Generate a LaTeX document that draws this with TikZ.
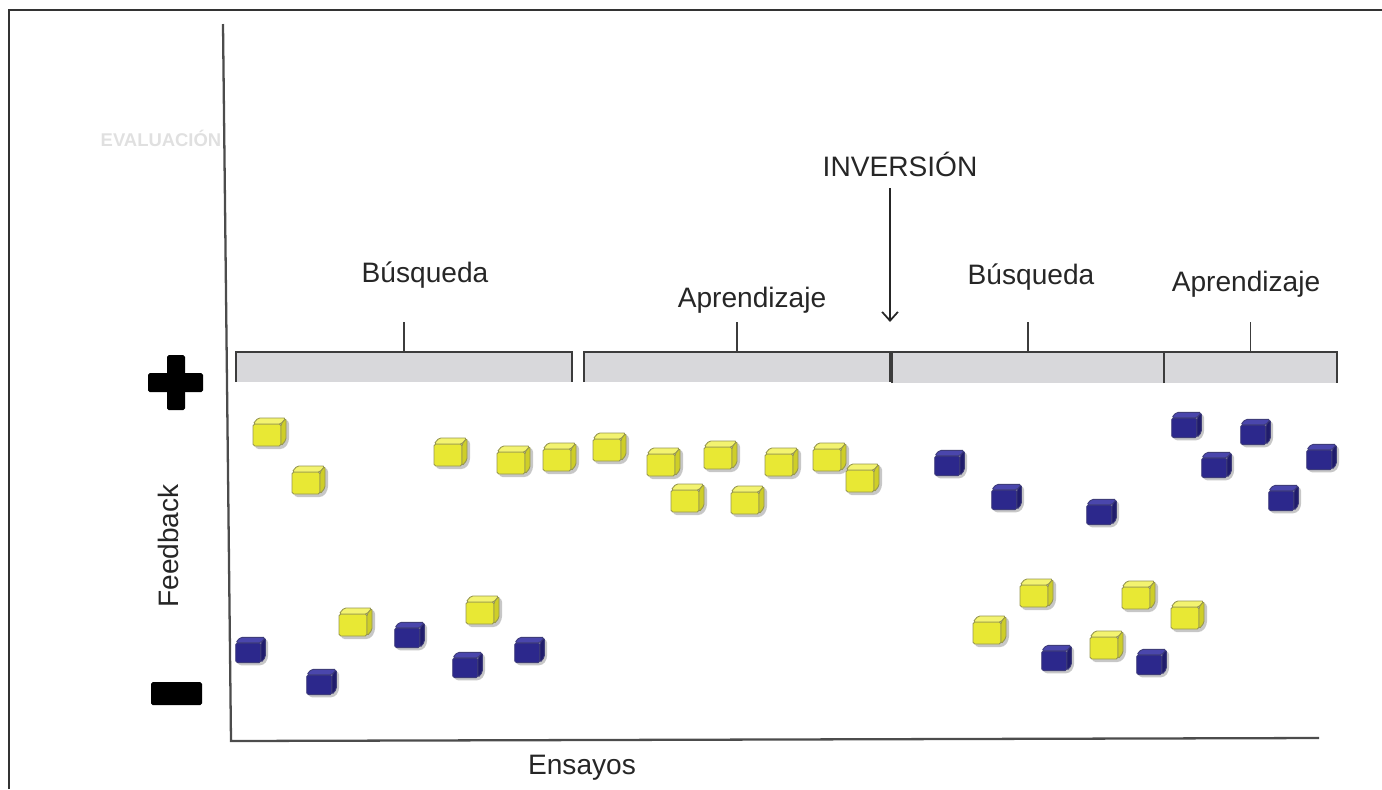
\documentclass[tikz,border=0pt]{standalone}
\usepackage{fontspec}
\setmainfont{Liberation Sans}
\usepackage{xcolor}
\definecolor{ylwfront}{RGB}{232,232,52}
\definecolor{ylwtop}{RGB}{243,243,112}
\definecolor{ylwside}{RGB}{206,206,40}
\definecolor{ylwedge}{RGB}{150,150,80}
\definecolor{blufront}{RGB}{44,40,140}
\definecolor{blutop}{RGB}{74,70,172}
\definecolor{bluside}{RGB}{32,28,108}
\definecolor{bluedge}{RGB}{62,60,122}
\definecolor{bargray}{RGB}{216,216,219}
\definecolor{inkdark}{RGB}{38,38,38}
\usepackage{tikz}
\usetikzlibrary{arrows.meta, fit}

\begin{document}
\begin{tikzpicture}[
        x=0.02cm, y=-0.02cm,
        lbl/.style={
            text=inkdark,
            font=\fontsize{16}{19}\selectfont,
            inner sep=0pt
        },
        barbox/.style={
            fill=bargray,
            inner sep=0pt,
            outer sep=0pt
        },
        bracket/.style={
            draw=inkdark!90,
            line width=1.1pt
        },
        axis/.style={
            draw=black!70,
            line width=1.3pt
        },
        invarrow/.style={
            -{Straight Barb[length=5pt, width=9pt]},
            line width=1pt,
            color=inkdark
        },
        pics/cube/.style={code={
            \fill[black!55, opacity=.4, rounded corners=2pt]
                (-15,-12) -- (19,-12) -- (19,10) -- (14,17) -- (-15,17) -- cycle;
            \filldraw[fill=#1front, draw=#1edge, line width=.5pt, rounded corners=1pt]
                (-17,-8) rectangle (11,14);
            \filldraw[fill=#1top, draw=#1edge, line width=.5pt, rounded corners=1pt]
                (-17,-8) -- (-12,-14) -- (16,-14) -- (11,-8) -- cycle;
            \filldraw[fill=#1side, draw=#1edge, line width=.5pt, rounded corners=1pt]
                (11,-8) -- (16,-14) -- (16,8) -- (11,14) -- cycle;
        }}
    ]
        \useasboundingbox (0,0) rectangle (1382,789);

        % Frame and axes
        \draw[line width=1pt, black!80] (9,789) -- (9,10) -- (1382,10);
        \coordinate (ytop) at (223,24);
        \coordinate (origin) at (231,741);
        \coordinate (xend) at (1319,738);
        \draw[axis] (ytop) -- (origin) -- (xend);

        % Faint title
        \node[font=\bfseries\fontsize{10.5}{12}\selectfont, text=black!12, inner sep=0pt] (evaluacion) at (161,138) {EVALUACIÓN};

        % Signs
        \fill[black, rounded corners=1pt] (148,373) rectangle (203,392);
        \fill[black, rounded corners=1pt] (167,355) rectangle (185,410);
        \fill[black, rounded corners=1pt] (151,682) rectangle (202,705);

        % Axis labels
        \node[lbl, rotate=90] (feedback) at (168,546) {Feedback};
        \node[lbl] (ensayos) at (582,768) {Ensayos};

        % Phase bars
        \node[barbox, fit={(236,352)(572,382)}] (bar1) {};
        \node[barbox, fit={(584,352)(890,382)}] (bar2) {};
        \node[barbox, fit={(892,352)(1164,383)}] (bar3) {};
        \node[barbox, fit={(1164,352)(1337,383)}] (bar4) {};
        \foreach \b in {bar1, bar2, bar3, bar4} {
            \draw[bracket] (\b.south west) |- (\b.north east) -- (\b.south east);
            \draw[bracket] (\b.north) -- ++(0,-30);
        }

        % Phase labels
        \node[lbl] (busq1) at (425,275) {Búsqueda};
        \node[lbl] (apr1) at (752,300) {Aprendizaje};
        \node[lbl] (busq2) at (1031,277) {Búsqueda};
        \node[lbl] (apr2) at (1246,284) {Aprendizaje};

        % Inversion
        \node[lbl] (inv) at (900,164) {INVERSIÓN};
        \coordinate (invtop) at (890,188);
        \coordinate (invtip) at (890,322);
        \draw[invarrow] (invtop) -- (invtip);

        % Yellow cubes
        \foreach \px/\py in {270/432, 309/480, 451/452, 514/460, 560/457, 610/447,
                664/462, 721/455, 688/498, 748/500, 782/462, 830/457, 863/478,
                356/622, 483/610, 990/630, 1037/593, 1107/645, 1139/595, 1188/615}
            \pic at (\px,\py) {cube=ylw};

        % Blue cubes
        \foreach \px/\py in {950/463, 1007/497, 1102/512, 1187/425, 1256/432, 1217/465,
                1322/457, 1284/498, 251/650, 322/682, 410/635, 468/665, 530/650,
                1057/658, 1152/662}
            \pic[scale=.9] at (\px,\py) {cube=blu};
    \end{tikzpicture}
\end{document}
